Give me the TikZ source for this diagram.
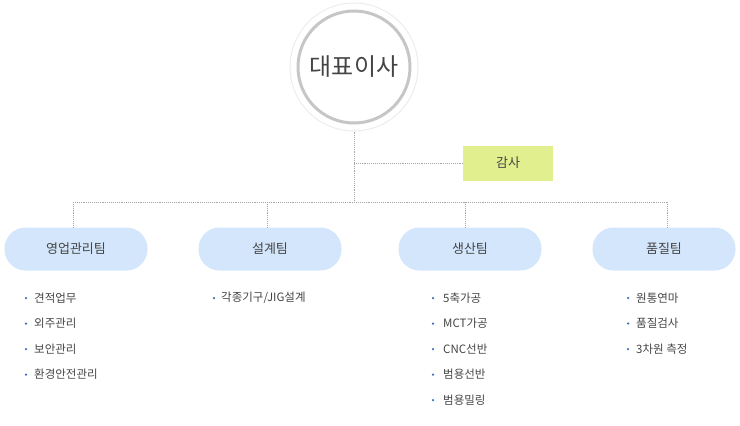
\documentclass[tikz,border=0pt]{standalone}
\usepackage{fontspec}
\setmainfont{Noto Sans CJK KR}
\usetikzlibrary{positioning}
\definecolor{teamblue}{HTML}{D3E6FB}
\definecolor{auditgreen}{HTML}{E2EF8E}
\definecolor{bulletblue}{HTML}{3A6EB5}
\definecolor{txtgray}{HTML}{444444}
\tikzset{
  team/.style={fill=teamblue, rounded corners=21pt, minimum width=143pt, minimum height=43pt, font=\fontsize{13}{15}\selectfont, text=txtgray},
  link/.style={draw=gray!70, densely dotted, line width=0.9pt},
  item/.style={anchor=west, font=\fontsize{11.5}{13}\selectfont, text=txtgray, inner sep=0pt},
  dot/.style={circle, fill=bulletblue, inner sep=0pt, minimum size=2.5pt}
}
\begin{document}
\begin{tikzpicture}[x=1pt,y=-1pt]
    \useasboundingbox (0,0) rectangle (740,426);

    \node (ceo) [circle, draw=gray!15, line width=1pt, minimum size=128pt] at (354,67) {};
    \node (ceoin) [circle, draw=gray!45, line width=3pt, minimum size=112pt, font=\fontsize{24}{28}\selectfont, text=txtgray] at (354,67) {대표이사};
    \node (audit) [fill=auditgreen, minimum width=90pt, minimum height=35pt, font=\fontsize{13}{15}\selectfont, text=txtgray] at (508,163) {감사};

    \node (sales) [team] at (76,249) {영업관리팀};
    \node (design) [team] at (270,249) {설계팀};
    \node (prod) [team] at (470,249) {생산팀};
    \node (qual) [team] at (664,249) {품질팀};

    \coordinate (hub) at (354,202);
    \coordinate (hubaudit) at (354,163);
    \coordinate (left) at (73,202);
    \coordinate (right) at (667,202);

    \draw[link] (ceo.south) -- (hub);
    \draw[link] (hubaudit) -- (audit.west);
    \draw[link] (left) -- (right);
    \draw[link] (left) -- (sales.north -| left);
    \draw[link] (267,202) -- (design.north -| 267,0);
    \draw[link] (465,202) -- (prod.north -| 465,0);
    \draw[link] (right) -- (qual.north -| right);

    % lists
    \foreach \t [count=\i] in {견적업무,외주관리,보안관리,환경안전관리}
        \node[item] (s\i) at (34,{298+25.5*(\i-1)}) {\t};
    \foreach \i in {1,...,4} \node[dot] at ([xshift=-8pt]s\i.west) {};

    \node[item] (d1) at (221,298) {각종기구/JIG설계};
    \node[dot] at ([xshift=-7pt]d1.west) {};

    \foreach \t [count=\i] in {5축가공,MCT가공,CNC선반,범용선반,범용밀링}
        \node[item] (p\i) at (443,{298+25.5*(\i-1)}) {\t};
    \foreach \i in {1,...,5} \node[dot] at ([xshift=-10pt]p\i.west) {};

    \foreach \t [count=\i] in {원통연마,품질검사,3차원 측정}
        \node[item] (q\i) at (636,{298+25.5*(\i-1)}) {\t};
    \foreach \i in {1,...,3} \node[dot] at ([xshift=-8pt]q\i.west) {};
\end{tikzpicture}
\end{document}
